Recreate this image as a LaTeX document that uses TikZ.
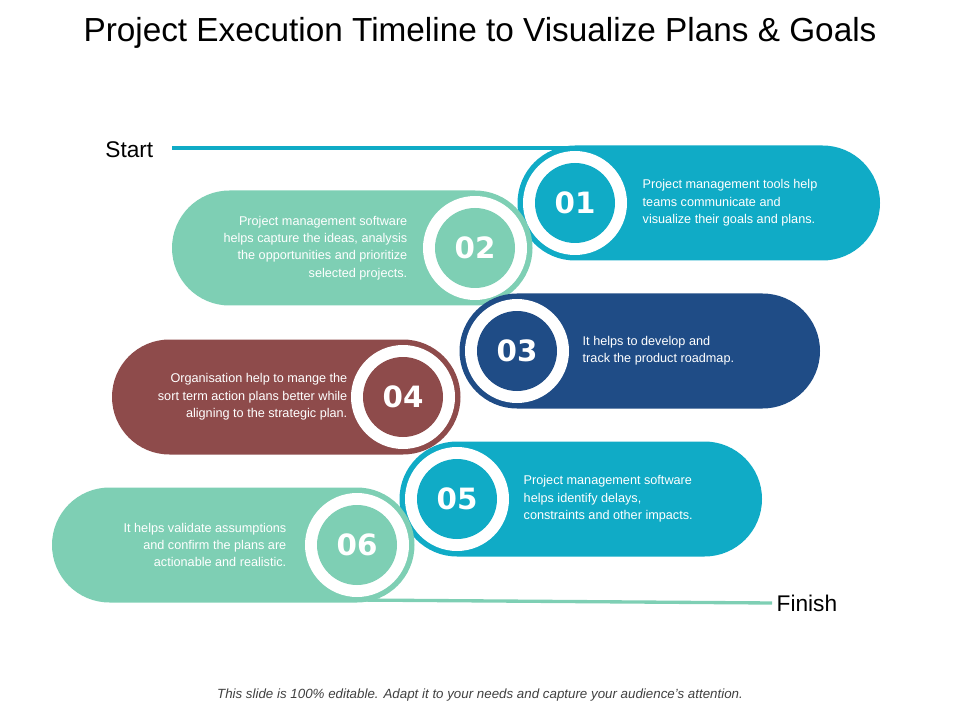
\documentclass[tikz,border=0pt]{standalone}
\usepackage{fontspec}
\setmainfont{Liberation Sans}
\newfontfamily\numfont{DejaVu Sans}
\definecolor{cyanband}{HTML}{10ABC6}
\definecolor{mintband}{HTML}{7ECFB4}
\definecolor{navyband}{HTML}{1F4C86}
\definecolor{brownband}{HTML}{8E4B4B}
\newcommand{\rband}[4]{% center x, center y, end x, colour
  \fill[#4] (#1,#2-57.5) -- (#3-57.5,#2-57.5) arc[start angle=-90,end angle=90,radius=57.5]
    -- (#1,#2+57.5) arc[start angle=90,end angle=270,radius=57.5] -- cycle;}
\newcommand{\lband}[4]{%
  \fill[#4] (#1,#2-57.5) -- (#3+57.5,#2-57.5) arc[start angle=270,end angle=90,radius=57.5]
    -- (#1,#2+57.5) arc[start angle=90,end angle=-90,radius=57.5] -- cycle;}
\begin{document}
\begin{tikzpicture}[x=0.75pt,y=-0.75pt,
    numdisc/.style={circle, minimum size=80*0.75pt, inner sep=0pt, text=white, font=\numfont\bfseries\fontsize{22}{22}\selectfont},
    ring/.style={circle, fill=white, minimum size=104*0.75pt, inner sep=0pt},
    rtext/.style={align=left, anchor=west, text=white, font=\fontsize{9.5}{13}\selectfont},
    ltext/.style={align=right, anchor=east, text=white, font=\fontsize{9.5}{13}\selectfont}
  ]
  \useasboundingbox (0,0) rectangle (960,720);
  \node[font=\fontsize{25}{30}\selectfont] (title) at (480,33) {Project Execution Timeline to Visualize Plans \& Goals};
  % bands
  \node[anchor=east, font=\fontsize{17}{20}\selectfont] (start) at (158,150) {Start};
  \coordinate (startend) at (575,148);
  \draw[cyanband, line width=2.5pt] (172,148) -- (startend);
  \rband{575}{203}{880}{cyanband}
  \lband{475}{248}{172}{mintband}
  \rband{517}{351}{820}{navyband}
  \lband{403}{397}{112}{brownband}
  \rband{457}{499}{762}{cyanband}
  \lband{357}{545}{52}{mintband}
  \node[anchor=west, font=\fontsize{17}{20}\selectfont] (finish) at (772,603) {Finish};
  \coordinate (finishbeg) at (357,600);
  \draw[mintband, line width=2.5pt] (finishbeg) -- (finish.west);
  % rings and numbers
  \node[ring] at (575,203) {}; \node[numdisc, fill=cyanband] (n1) at (575,203) {01};
  \node[ring] at (475,248) {}; \node[numdisc, fill=mintband] (n2) at (475,248) {02};
  \node[ring] at (517,351) {}; \node[numdisc, fill=navyband] (n3) at (517,351) {03};
  \node[ring] at (403,397) {}; \node[numdisc, fill=brownband] (n4) at (403,397) {04};
  \node[ring] at (457,499) {}; \node[numdisc, fill=cyanband] (n5) at (457,499) {05};
  \node[ring] at (357,545) {}; \node[numdisc, fill=mintband] (n6) at (357,545) {06};
  % texts
  \node[rtext] (t1) at (638,203) {Project management tools help\\teams communicate and\\visualize their goals and plans.};
  \node[ltext] (t2) at (412,248) {Project management software\\helps capture the ideas, analysis\\the opportunities and prioritize\\selected projects.};
  \node[rtext] (t3) at (578,351) {It helps to develop and\\track the product roadmap.};
  \node[ltext] (t4) at (352,397) {Organisation help to mange the\\sort term action plans better while\\aligning to the strategic plan.};
  \node[rtext] (t5) at (519,499) {Project management software\\helps identify delays,\\constraints and other impacts.};
  \node[ltext] (t6) at (291,545) {It helps validate assumptions\\and confirm the plans are\\actionable and realistic.};
  \node[font=\itshape\fontsize{10}{12}\selectfont, text=black!75] (foot) at (480,695) {This slide is 100\% editable.  Adapt it to your needs and capture your audience’s attention.};
\end{tikzpicture}
\end{document}
